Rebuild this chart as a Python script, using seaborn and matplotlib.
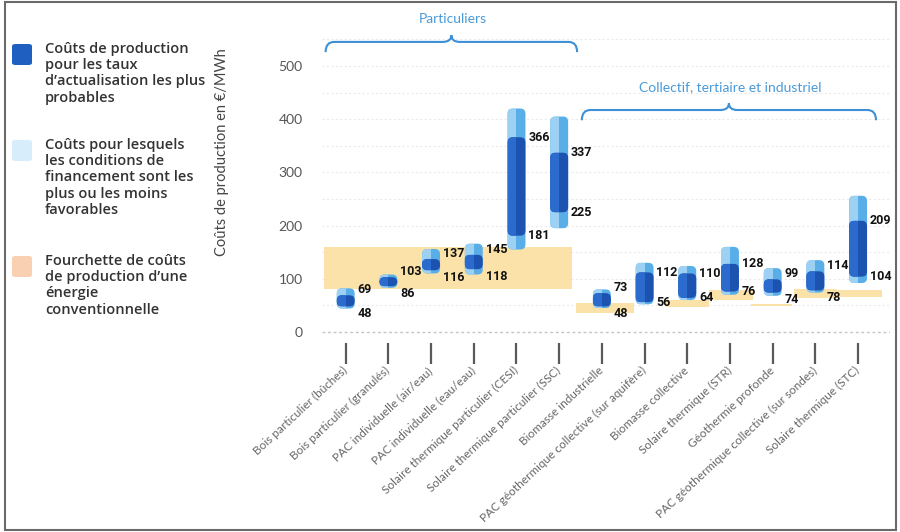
import pandas as pd
import matplotlib.pyplot as plt
import seaborn as sns
from matplotlib.patches import FancyBboxPatch, Rectangle, PathPatch
from matplotlib.path import Path

# Données
categories = [
    "Bois particulier (bûches)",
    "Bois particulier (granulés)",
    "PAC individuelle (air/eau)",
    "PAC individuelle (eau/eau)",
    "Solaire thermique particulier (CESI)",
    "Solaire thermique particulier (SSC)",
    "Biomasse industrielle",
    "PAC géothermique collective (sur aquifère)",
    "Biomasse collective",
    "Solaire thermique (STR)",
    "Géothermie profonde",
    "PAC géothermique collective (sur sondes)",
    "Solaire thermique (STC)",
]
dark_lo = [48, 86, 116, 118, 181, 225, 48, 56, 64, 76, 74, 78, 104]
dark_hi = [69, 103, 137, 145, 366, 337, 73, 112, 110, 128, 99, 114, 209]
light_lo = [44, 83, 110, 108, 155, 195, 45, 52, 60, 70, 68, 74, 92]
light_hi = [82, 108, 156, 166, 420, 405, 80, 130, 124, 160, 120, 135, 256]

# fourchette énergie conventionnelle (début / fin en position de catégorie)
conv_start = [-0.5, 5.4, 7.5, 8.5, 9.5, 10.5, 11.5]
conv_end = [5.3, 6.75, 8.5, 9.55, 10.45, 11.5, 12.55]
conv_lo = [80, 36, 47, 60, 49, 64, 66]
conv_hi = [160, 55, 60, 79, 52, 80, 79]

groups = ["Particuliers", "Collectif, tertiaire et industriel"]
group_first = [0, 6]
group_last = [5, 12]
group_level = [526, 398]

ytick_values = [0, 100, 200, 300, 400, 500]

sns.set_theme(style="white")
plt.rcParams["font.family"] = ["Lato", "DejaVu Sans"]

fig = plt.figure(figsize=(9, 5.32), dpi=100)
ax = fig.add_axes([0.358, 0.356, 0.631, 0.575])

df = pd.DataFrame({
    "cat": categories,
    "light_lo": light_lo,
    "light_h": [h - l for h, l in zip(light_hi, light_lo)],
    "dark_lo": dark_lo,
    "dark_h": [h - l for h, l in zip(dark_hi, dark_lo)],
})

bar_w = 0.42
sns.barplot(data=df, x="cat", y="light_h", bottom=df["light_lo"], width=bar_w,
            color="#5aaee8", saturation=1, errorbar=None, ax=ax)
light_bars = list(ax.patches)
sns.barplot(data=df, x="cat", y="dark_h", bottom=df["dark_lo"], width=bar_w,
            color="#1c52b0", saturation=1, errorbar=None, ax=ax)
dark_bars = [p for p in ax.patches if p not in light_bars]
ax.set_xlim(-0.55, 12.75)
ax.set_ylim(-20, 555)

# rapport d'échelle pour arrondir les barres
p0 = ax.transData.transform((0, 0))
p1 = ax.transData.transform((1, 1))
aspect = (p1[0] - p0[0]) / (p1[1] - p0[1])


def round_bars(bars, color, hl_color, z):
    for p in bars:
        x, y, w, h = p.get_x(), p.get_y(), p.get_width(), p.get_height()
        p.remove()
        box = FancyBboxPatch((x, y), w, h, boxstyle="round,pad=0,rounding_size=0.12",
                             mutation_aspect=aspect, fc=color, ec="none", zorder=z)
        ax.add_patch(box)
        hl = Rectangle((x, y), w * 0.5, h, fc=hl_color, ec="none", zorder=z)
        ax.add_patch(hl)
        hl.set_clip_path(box)


round_bars(light_bars, "#5aaee8", "#9dd1f4", 3)
round_bars(dark_bars, "#1c52b0", "#2a6bcd", 4)

# bandes énergie conventionnelle
for x0, x1, lo, hi in zip(conv_start, conv_end, conv_lo, conv_hi):
    ax.fill_between([x0, x1], lo, hi, color="#fbdf9f", alpha=0.9, lw=0, zorder=1)

# grille
for v in range(50, 551, 50):
    ax.axhline(v, color="#ebebeb", lw=0.8, ls=(0, (2, 2)), zorder=0)
ax.axhline(0, color="#c4c4c4", lw=1.0, ls=(0, (2, 2)), zorder=0)

# étiquettes des valeurs
num_font = dict(family=["Roboto", "DejaVu Sans"], weight="bold", size=9, color="#111")
for i in range(len(categories)):
    span = dark_hi[i] - dark_lo[i]
    up, down = (4, -5) if span < 40 else (0, 0)
    ax.annotate(str(dark_hi[i]), xy=(i + bar_w / 2, dark_hi[i]), xytext=(2, up),
                textcoords="offset points", va="center", ha="left", zorder=6, **num_font)
    ax.annotate(str(dark_lo[i]), xy=(i + bar_w / 2, dark_lo[i]), xytext=(2, down),
                textcoords="offset points", va="center", ha="left", zorder=6, **num_font)


# accolades des groupes
def brace(x0, x1, y, h, color):
    xm = (x0 + x1) / 2
    r = 0.2
    yl = y + h * 0.6
    verts = [(x0, y), (x0, yl), (x0 + r, yl), (xm - r, yl), (xm, yl), (xm, y + h),
             (xm, yl), (xm + r, yl), (x1 - r, yl), (x1, yl), (x1, y)]
    codes = [Path.MOVETO, Path.CURVE3, Path.CURVE3, Path.LINETO, Path.CURVE3, Path.CURVE3,
             Path.CURVE3, Path.CURVE3, Path.LINETO, Path.CURVE3, Path.CURVE3]
    ax.add_patch(PathPatch(Path(verts, codes), fc="none", ec=color, lw=1.5, clip_on=False))


for name, a, b, lvl in zip(groups, group_first, group_last, group_level):
    brace(a - 0.47, b + 0.42, lvl, 32, "#3d8fd6")
    ax.text((a + b) / 2, lvl + 62, name, ha="center", va="center", fontsize=10,
            color="#4a9ad8", clip_on=False)

# axes
sns.despine(ax=ax, left=True, bottom=True)
ax.set_xlabel("")
ax.set_ylabel("")
ax.set_yticks(ytick_values)
ax.set_yticklabels([str(v) for v in ytick_values])
ax.tick_params(axis="y", length=0, pad=14, labelsize=10, labelcolor="#555")
ax.set_xticks(range(len(categories)))
ax.set_xticklabels(categories, rotation=43, ha="right", va="center",
                   rotation_mode="anchor", fontsize=8.5, color="#666")
ax.tick_params(axis="x", length=15, width=1.6, color="#5a5a5a", pad=4, bottom=True)

fig.text(222 / 900, 1 - 152 / 532, "Coûts de production en €/MWh", rotation=90,
         ha="center", va="center", fontsize=10.5, color="#444")

# légende
legend_items = [
    ("#1f5fc0", "Coûts de production\npour les taux\nd’actualisation les plus\nprobables", 42),
    ("#d8edfb", "Coûts pour lesquels\nles conditions de\nfinancement sont les\nplus ou les moins\nfavorables", 138),
    ("#f9d0b2", "Fourchette de coûts\nde production d’une\nénergie\nconventionnelle", 254),
]
for col, txt, ypx in legend_items:
    fig.add_artist(FancyBboxPatch((12 / 900, 1 - (ypx + 23) / 532), 20 / 900, 21 / 532,
                                  boxstyle="round,pad=0,rounding_size=0.004",
                                  transform=fig.transFigure, fc=col, ec="none"))
    fig.text(45 / 900, 1 - ypx / 532, txt, ha="left", va="top", fontsize=10.5,
             linespacing=1.2, color="#333", weight="semibold",
             family=["Open Sans", "DejaVu Sans"])

# cadre
fig.add_artist(Rectangle((0.006, 0.004), 0.99, 0.992, transform=fig.transFigure,
                         fill=False, ec="#6a6a6a", lw=1.5))

fig.savefig("out.png", dpi=100)
